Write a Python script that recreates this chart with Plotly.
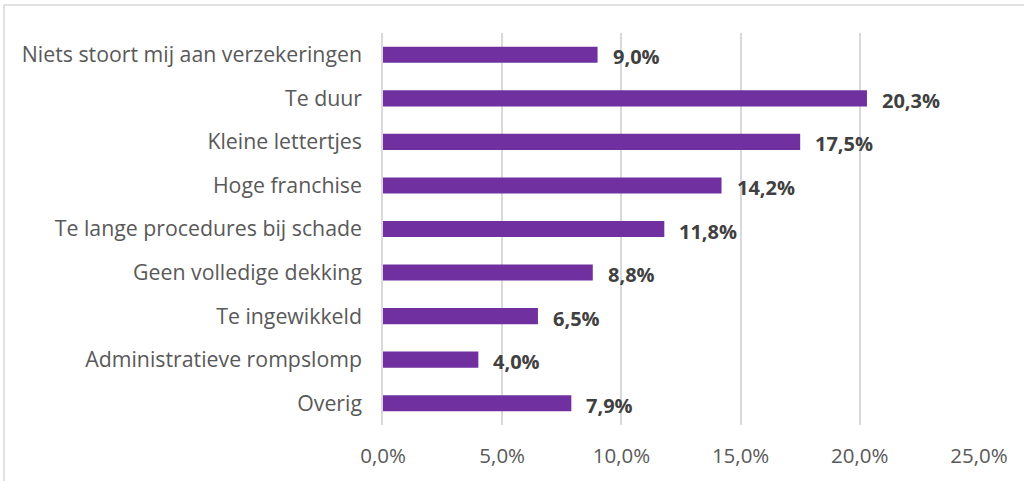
import plotly.graph_objects as go

categories = [
    "Niets stoort mij aan verzekeringen",
    "Te duur",
    "Kleine lettertjes",
    "Hoge franchise",
    "Te lange procedures bij schade",
    "Geen volledige dekking",
    "Te ingewikkeld",
    "Administratieve rompslomp",
    "Overig",
]
values = [9.0, 20.3, 17.5, 14.2, 11.8, 8.8, 6.5, 4.0, 7.9]
tick_vals = [0, 5, 10, 15, 20, 25]
tick_text = ["0,0%", "5,0%", "10,0%", "15,0%", "20,0%", "25,0%"]

labels = [f"{v:.1f}%".replace(".", ",") for v in values]
FONT = "Open Sans, sans-serif"

fig = go.Figure()
fig.add_trace(go.Bar(
    x=values, y=categories, orientation="h",
    marker=dict(color="#7030A0", line=dict(width=0)),
    width=0.37, hoverinfo="skip",
))
for c, v, t in zip(categories, values, labels):
    fig.add_annotation(x=v, y=c, text=f"<b>{t}</b>", showarrow=False,
                       xanchor="left", xshift=13, yshift=-2,
                       font=dict(family=FONT, size=20, color="#404040"))

fig.add_shape(type="rect", xref="paper", yref="paper",
              x0=-379/596, x1=(1030-383)/596, y0=(425-490)/392, y1=(425-5)/392,
              line=dict(color="#d9d9d9", width=1.5), fillcolor="rgba(0,0,0,0)", layer="below")

fig.update_layout(
    width=1024, height=481,
    margin=dict(l=383, r=45, t=33, b=56),
    plot_bgcolor="white", paper_bgcolor="white",
    showlegend=False,
    font=dict(family=FONT, size=20, color="#595959"),
    xaxis=dict(range=[0, 25], tickvals=tick_vals, ticktext=tick_text,
               showgrid=True, gridcolor="#d9d9d9", gridwidth=1.5,
               zeroline=False, showline=False, ticks="", ticklabelstandoff=16,
               tickfont=dict(family=FONT, size=20.5, color="#595959")),
    yaxis=dict(autorange="reversed", showline=True, linecolor="#d9d9d9", linewidth=1.5,
               ticks="", ticklabelstandoff=15,
               tickfont=dict(family=FONT, size=21.3, color="#595959")),
    bargap=0.63,
)
fig.write_html("out.html", post_script="document.body.style.margin='0';",
               config={"displayModeBar": False})
